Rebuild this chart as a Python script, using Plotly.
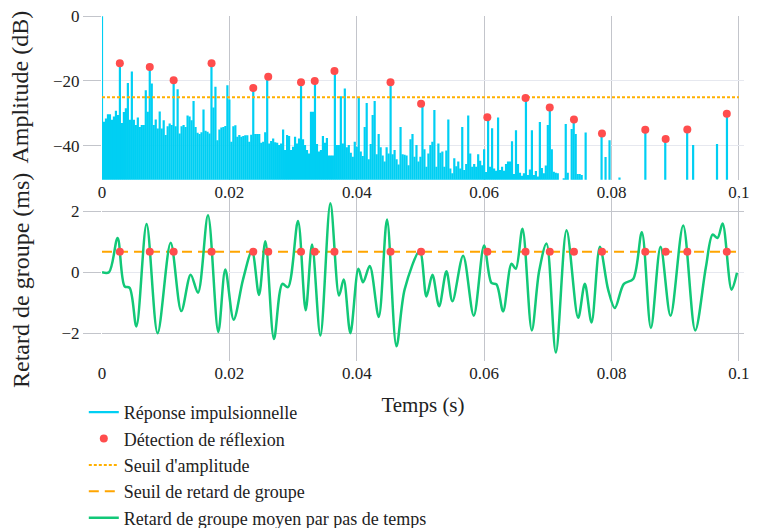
import plotly.graph_objects as go
from plotly.subplots import make_subplots

# ---------------- data ----------------
fs = 3200  # samples per second of the impulse response
ir_db = [
    0, -32.6, -31.6, -30.3, -30.3, -32.0, -31.0, -29.2, -30.5, -14.5,
    -33.0, -29.6, -28.4, -20.6, -32.0, -17.1, -32.0, -33.6, -31.3, -34.2,
    -33.6, -33.6, -22.9, -29.5, -15.7, -20.8, -33.6, -31.9, -34.7, -29.4,
    -34.7, -32.1, -36.7, -34.0, -33.1, -33.6, -19.8, -34.0, -22.6, -36.2,
    -34.0, -33.6, -34.2, -30.7, -31.0, -32.1, -26.2, -34.2, -36.0, -36.4,
    -35.8, -28.8, -35.4, -35.7, -36.2, -14.5, -28.2, -21.8, -38.3, -35.0,
    -34.4, -34.2, -33.9, -21.3, -25.7, -38.8, -34.0, -33.7, -37.2, -36.7,
    -37.2, -37.0, -36.8, -36.8, -38.8, -36.6, -22.2, -36.4, -36.4, -36.4,
    -39.1, -38.8, -35.8, -18.7, -39.3, -38.5, -37.8, -38.9, -39.1, -39.8,
    -39.3, -35.0, -41.3, -36.7, -37.0, -41.3, -40.3, -37.2, -39.3, -37.8,
    -20.4, -38.0, -39.8, -41.3, -42.4, -29.5, -29.5, -20.0, -39.5, -41.8,
    -41.3, -37.0, -39.1, -37.6, -43.0, -43.0, -43.0, -16.9, -39.8, -39.8,
    -24.7, -39.3, -22.3, -40.5, -39.8, -42.2, -43.4, -38.8, -40.3, -25.1,
    -41.8, -43.2, -34.2, -26.8, -44.2, -39.5, -30.5, -26.2, -42.6, -36.4,
    -40.5, -43.0, -44.9, -40.5, -42.4, -20.4, -42.6, -41.3, -44.2, -45.8,
    -34.2, -42.6, -42.8, -43.0, -46.0, -38.0, -36.4, -43.4, -39.8, -44.9,
    -43.4, -27.0, -41.1, -46.5, -42.4, -39.8, -38.8, -29.0, -46.5, -39.3,
    -42.2, -41.8, -46.5, -41.5, -31.9, -47.0, -48.5, -43.9, -46.3, -44.9,
    -47.0, -34.2, -47.5, -45.6, -30.7, -42.4, -46.5, -45.6, -46.5, -42.6,
    -44.6, -46.0, -41.1, -48.1, -31.2, -46.5, -34.6, -47.0, -47.7, -31.3,
    -47.5, -46.5, -47.7, -45.6, -44.9, -44.9, -38.6, -48.7, -35.2, -45.6,
    -48.3, -49.3, -48.5, -25.3, -49.0, -47.3, -35.2, -49.0, -47.8, -49.5,
    -32.7, -46.9, -48.5, -46.1, -33.6, -28.2, -41.1, -48.0, -48.3, -48.5,
    -60, -60, -50.0, -33.3, -48.3, -60, -34.8, -31.9, -36.4, -48.7,
    -48.7, -49.0, -60, -35.9, -60, -60, -60, -60, -60, -60,
    -60, -36.2, -60, -43.5, -60, -38.3, -60, -60, -60, -60,
    -49.8, -60, -60, -60, -60, -60, -60, -60, -60, -60,
    -60, -60, -60, -35.1, -60, -60, -60, -60, -60, -60,
    -60, -60, -60, -37.9, -60, -60, -60, -60, -60, -60,
    -60, -60, -60, -60, -35.0, -60, -60, -39.8, -60, -60,
    -60, -60, -60, -60, -60, -60, -60, -60, -60, -39.5,
    -60, -60, -60, -60, -30.1, -60, -60, -60, -60, -60,
    -60,
]

refl_t = [0.0028, 0.0075, 0.01125, 0.0172, 0.02375, 0.0261, 0.03125, 0.0334,
          0.0365, 0.0453, 0.0501, 0.0605, 0.0665, 0.0703, 0.0741, 0.0785,
          0.0853, 0.0885, 0.0919, 0.0981]
refl_db = [-14.5, -15.7, -19.8, -14.5, -22.2, -18.7, -20.4, -20.0,
           -16.9, -20.4, -27.0, -31.2, -25.3, -28.2, -31.9, -36.2,
           -35.1, -37.9, -35.0, -30.1]

amp_threshold = -25.0
gd_threshold = 0.67
t_span = [0.0, 0.1]

gd_t = [0.0, 0.0011, 0.00245, 0.00355, 0.00434, 0.0054, 0.0070, 0.00873,
        0.01078, 0.01245, 0.01392, 0.01507, 0.01664, 0.01826, 0.01936,
        0.02067, 0.02214, 0.02355, 0.02465, 0.02565, 0.0270, 0.02832,
        0.0292, 0.03077, 0.03198, 0.03298, 0.03429, 0.03586, 0.03722,
        0.03795, 0.0390, 0.04026, 0.04099, 0.04204, 0.04345, 0.04475,
        0.04623, 0.04753, 0.04989, 0.05094, 0.05188, 0.05293, 0.05408,
        0.05502, 0.0567, 0.05837, 0.05999, 0.06115, 0.06194, 0.06298,
        0.0643, 0.06497, 0.06602, 0.06748, 0.06863, 0.06979, 0.07126,
        0.07294, 0.07476, 0.07581, 0.07686, 0.07817, 0.07947, 0.08052,
        0.08194, 0.0834, 0.08476, 0.08618, 0.0877, 0.08927, 0.09125,
        0.09314, 0.09482, 0.09587, 0.09665, 0.09744, 0.09885, 0.0997]
gd_ms = [0.0, 0.0, 1.12, -0.46, -0.51, -1.77, 1.58, -1.99,
         0.96, -1.27, -0.08, -0.67, 1.86, -1.95, 0.09,
         -1.55, -0.24, 0.69, -0.74, 1.01, -2.18, -0.38,
         -0.49, 1.67, -1.24, 0.91, -2.07, 2.25, -0.76,
         -0.24, -1.99, 0.11, -0.33, 0.2, -1.46, 1.72,
         -2.42, -0.55, 0.69, -0.79, -0.08, -1.11, 0.03,
         -0.95, 0.54, -1.42, 0.87, -0.35, -0.40, -1.28,
         0.28, 0.11, 1.42, -1.90, 0.03, 0.94, -2.62,
         1.37, -1.49, -0.38, -1.64, 0.83, -0.57, -1.17,
         -0.38, -0.22, 1.31, -1.82, 0.83, -1.42, 1.53,
         -1.90, 0.17, 1.23, 1.12, 1.59, -0.57, -0.02]

# ---------------- styling ----------------
FONT = "Liberation Serif"
CYAN = "#00CFF3"
RED = "#FF4D4D"
GREEN = "#12C878"
DOT_ORANGE = "#FFB000"
DASH_ORANGE = "#FFA500"
GRID_LIGHT = "#E6E8EF"
GRID_DARK = "#C3C5CB"
TXT = "#222"
FLOOR = -80

ir_t = [n / fs for n in range(len(ir_db))]
stem_x, stem_y = [], []
for t, v in zip(ir_t, ir_db):
    stem_x += [t, t, None]
    stem_y += [FLOOR, v, None]

fig = make_subplots(rows=2, cols=1, vertical_spacing=0.0507)

fig.add_trace(go.Scatter(x=stem_x, y=stem_y, mode="lines",
                         line=dict(color=CYAN, width=2.2),
                         name="Réponse impulsionnelle", legendrank=1),
              row=1, col=1)
fig.add_trace(go.Scatter(x=t_span, y=[amp_threshold] * 2, mode="lines",
                         line=dict(color=DOT_ORANGE, width=2, dash="3px,2px"),
                         name="Seuil d'amplitude", legendrank=3),
              row=1, col=1)
fig.add_trace(go.Scatter(x=refl_t, y=refl_db, mode="markers",
                         marker=dict(color=RED, size=8),
                         name="Détection de réflexion", legendrank=2),
              row=1, col=1)

fig.add_trace(go.Scatter(x=t_span, y=[gd_threshold] * 2, mode="lines",
                         line=dict(color=DASH_ORANGE, width=2, dash="10px,6px"),
                         name="Seuil de retard de groupe", legendrank=4),
              row=2, col=1)
fig.add_trace(go.Scatter(x=gd_t, y=gd_ms, mode="lines",
                         line=dict(color=GREEN, width=2.5, shape="spline", smoothing=0.9),
                         name="Retard de groupe moyen par pas de temps", legendrank=5),
              row=2, col=1)
fig.add_trace(go.Scatter(x=refl_t, y=[gd_threshold] * len(refl_t), mode="markers",
                         marker=dict(color=RED, size=8), showlegend=False),
              row=2, col=1)

tickfont = dict(family=FONT, size=17, color=TXT)
for r in (1, 2):
    fig.update_xaxes(row=r, col=1, range=[0, 0.1008], tickvals=[0, 0.02, 0.04, 0.06, 0.08, 0.1],
                     ticktext=["0", "0.02", "0.04", "0.06", "0.08", "0.1"],
                     showgrid=True, gridcolor=GRID_DARK, zeroline=False,
                     showline=False, tickfont=tickfont, ticks="",
                     ticklabeloverflow="allow")
fig.update_xaxes(row=2, col=1, title=dict(text="Temps (s)", font=dict(family=FONT, size=21, color=TXT)))
fig.update_yaxes(row=1, col=1, range=[-50.5, 0.05], tickvals=[0, -20, -40],
                 ticktext=["0", "−20", "−40"],
                 gridcolor=GRID_LIGHT, zeroline=False, showline=False,
                 ticks="outside", ticklen=18, tickcolor=GRID_DARK, tickfont=tickfont,
                 ticklabeloverflow="allow")
fig.update_yaxes(row=2, col=1, range=[-2.9, 2.45], tickvals=[2, 0, -2],
                 ticktext=["2", "0", "−2"],
                 gridcolor=GRID_DARK, zeroline=True, zerolinecolor=GRID_LIGHT, zerolinewidth=1,
                 showline=False, ticklabeloverflow="allow",
                 ticks="outside", ticklen=18, tickcolor=GRID_DARK, tickfont=tickfont)

title_font = dict(family=FONT, size=24, color=TXT)
fig.add_annotation(text="Amplitude (dB)", xref="paper", yref="paper",
                   x=-0.1262, y=0.7957, xanchor="center", yanchor="middle",
                   textangle=-90, showarrow=False, font=title_font)
fig.add_annotation(text="Retard de groupe (ms)", xref="paper", yref="paper",
                   x=-0.1262, y=0.2348, xanchor="center", yanchor="middle",
                   textangle=-90, showarrow=False, font=title_font)

fig.update_layout(
    width=758, height=528,
    margin=dict(l=94, r=22, t=8, b=175, autoexpand=False),
    paper_bgcolor="white", plot_bgcolor="white",
    font=dict(family=FONT, size=17, color=TXT),
    showlegend=True,
    legend=dict(orientation="v", xref="container", yref="container",
                x=0.100, y=0.269, xanchor="left", yanchor="top",
                font=dict(family=FONT, size=18, color=TXT),
                bgcolor="rgba(0,0,0,0)", traceorder="normal"),
)

fig.write_html("out.html")
